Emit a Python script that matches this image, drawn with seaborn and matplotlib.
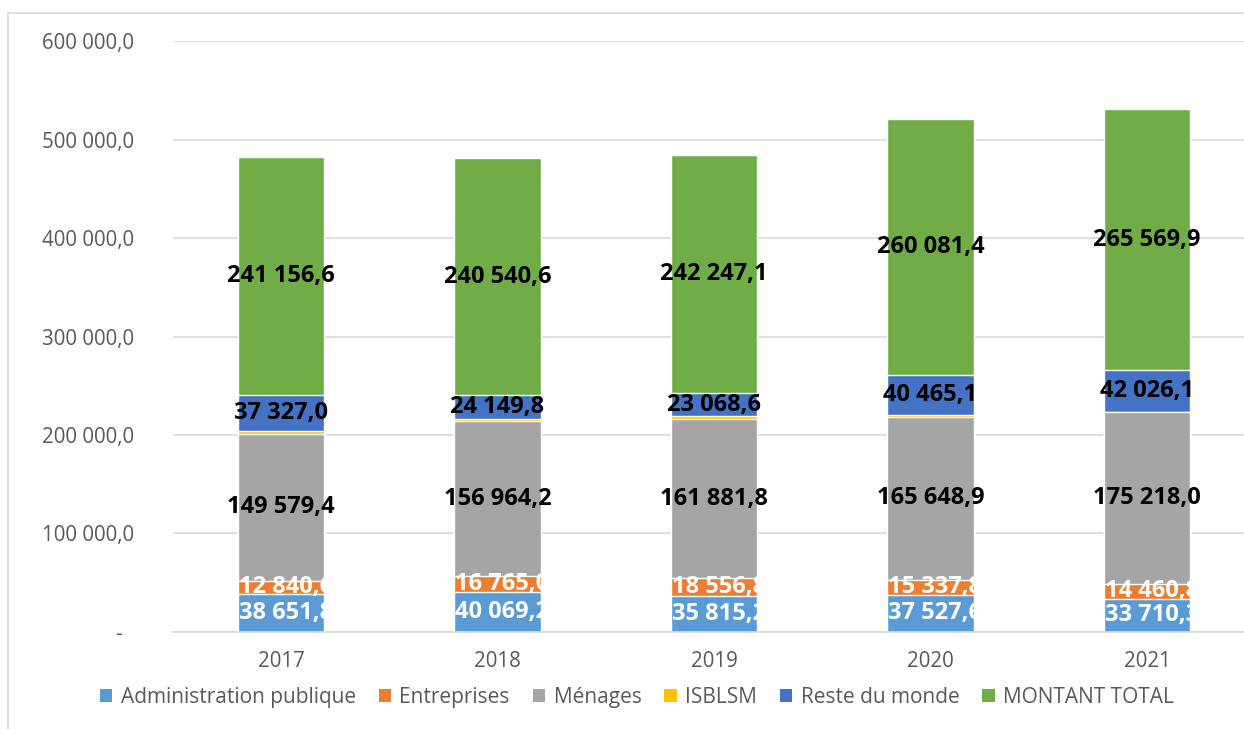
import numpy as np
import pandas as pd
import matplotlib
matplotlib.use("Agg")
import matplotlib.pyplot as plt
import seaborn as sns
from matplotlib.patches import Patch, Rectangle
from matplotlib.ticker import FuncFormatter

years = ["2017", "2018", "2019", "2020", "2021"]
admin = [38651.8, 40069.2, 35815.2, 37527.6, 33710.3]
entreprises = [12840.6, 16765.0, 18556.8, 15337.8, 14460.8]
menages = [149579.4, 156964.2, 161881.8, 165648.9, 175218.0]
isblsm = [2500.0, 2500.0, 2800.0, 1500.0, 300.0]
reste = [37327.0, 24149.8, 23068.6, 40465.1, 42026.1]
total = [241156.6, 240540.6, 242247.1, 260081.4, 265569.9]

series = ["Administration publique", "Entreprises", "Ménages", "ISBLSM",
          "Reste du monde", "MONTANT TOTAL"]
colors = ["#5B9BD5", "#ED7D31", "#A5A5A5", "#FFC000", "#4472C4", "#70AD47"]
label_colors = ["white", "white", "black", None, "black", "black"]

df = pd.DataFrame({"year": years, series[0]: admin, series[1]: entreprises,
                   series[2]: menages, series[3]: isblsm, series[4]: reste,
                   series[5]: total})

sns.set_style("white")
plt.rcParams["font.family"] = ["Open Sans", "DejaVu Sans"]

fig = plt.figure(figsize=(12.44, 7.29), dpi=100)
ax = fig.add_axes([172.75 / 1244, 1 - 631.7 / 729, 1082.5 / 1244, 590.4 / 729])

vals = df[series].to_numpy()
cum = np.cumsum(vals, axis=1)
bottoms = cum - vals

# draw from the top layer down so every stack shows
bars = {}
for i in range(len(series) - 1, -1, -1):
    sns.barplot(x=df["year"], y=cum[:, i], color=colors[i], saturation=1,
                width=0.4, order=years, ax=ax, zorder=2)
    bars[i] = ax.containers[-1]

ax.set_ylim(0, 600000)
ax.set_xlim(-0.5, 4.5)
ax.set_yticks(np.arange(0, 600001, 100000))
ax.yaxis.set_major_formatter(FuncFormatter(
    lambda v, p: "-  " if v == 0 else f"{v:,.1f}".replace(",", " ").replace(".", ",")))
ax.grid(axis="y", color="#D9D9D9", linewidth=1.2, zorder=0)
ax.set_axisbelow(True)
for s in ["top", "right", "left"]:
    ax.spines[s].set_visible(False)
ax.spines["bottom"].set_color("#D9D9D9")
ax.spines["bottom"].set_linewidth(1.2)
ax.tick_params(axis="y", length=0, pad=28, labelsize=14.8, labelcolor="#595959")
ax.tick_params(axis="x", length=0, pad=14, labelsize=14.8, labelcolor="#595959")
ax.set_xlabel("")
ax.set_ylabel("")

for i in range(len(series)):
    if label_colors[i] is None:
        continue
    for j in range(len(years)):
        y = bottoms[j, i] + vals[j, i] / 2
        txt = f"{vals[j, i]:,.1f}".replace(",", " ").replace(".", ",")
        if label_colors[i] == "white":
            patch = bars[i].patches[j]
            t = ax.text(j - 0.2 + 0.005, y, txt, ha="left", va="center",
                        fontsize=17, fontweight="bold", color="white", zorder=5)
            t.set_clip_path(patch)
        else:
            ax.text(j, y, txt, ha="center", va="center", fontsize=17,
                    fontweight="bold", color="black", zorder=5)

handles = [Patch(facecolor=c, edgecolor="none") for c in colors]
fig.legend(handles, series, loc="center", bbox_to_anchor=(0.512, 0.043),
           ncol=6, frameon=False, fontsize=15, labelcolor="#595959",
           handlelength=0.6, handleheight=0.6, handletextpad=0.4,
           columnspacing=1.1)

fig.patches.append(Rectangle((8 / 1244, -0.02), 1.1, 1 - 13 / 729 + 0.02,
                             transform=fig.transFigure, fill=False,
                             edgecolor="#D9D9D9", linewidth=1.2))

fig.savefig("out.png", dpi=100)
